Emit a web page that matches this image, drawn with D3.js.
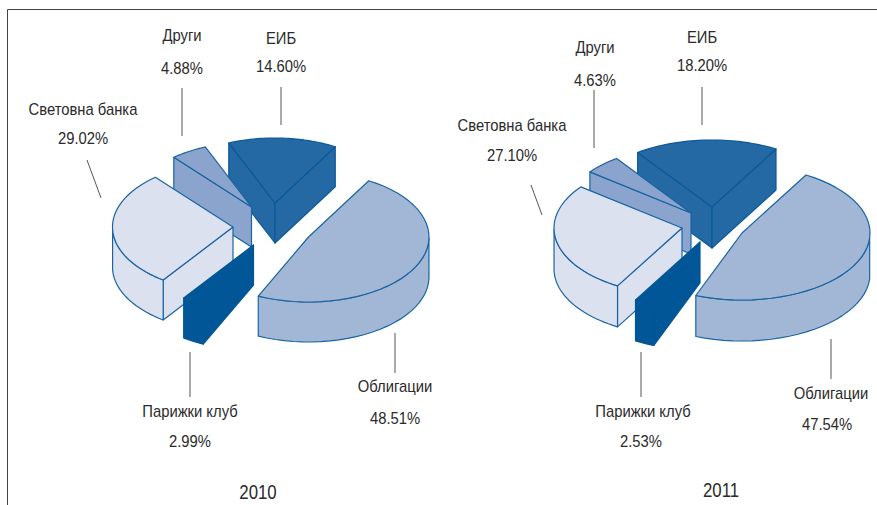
<!DOCTYPE html>
<html>
<head>
<meta charset="utf-8">
<script src="https://cdn.jsdelivr.net/npm/d3@7"></script>
<style>
    html, body { margin: 0; padding: 0; background: #fff; }
    svg { display: block; }
    text { font-family: "Liberation Sans", Arial, sans-serif; fill: #2a2a2a; }
</style>
</head>
<body>
<div id="chart"></div>
<script>
// Values, clockwise from the top right edge of the bonds slice
const categories = ["Облигации", "Парижки клуб", "Световна банка", "Други", "ЕИБ"];
const values2010 = [48.51, 2.99, 29.02, 4.88, 14.60];
const values2011 = [47.54, 2.53, 27.10, 4.63, 18.20];
const years = ["2010", "2011"];

const colors = ["#a2b6d6", "#005696", "#dce1f0", "#8aa4cd", "#2569a4"];
const strokes = ["#1a64a2", "#005696", "#1a64a2", "#1a64a2", "#0a5a9a"];

const width = 877, height = 505;
const series = [values2010, values2011];

// Pie geometry in screen pixels: centre of the bonds slice, radii, and
// how far each slice is pulled away from that centre.
const pies = [
    { cx: 308.5, cy: 237, rx: 120.5, ry: 65, depth: 40,
      explode: [[0, 0], [-55, 8], [-75.5, -10], [-57, -30], [-33.5, -34]] },
    { cx: 742, cy: 233, rx: 128, ry: 67, depth: 41,
      explode: [[0, 0], [-42, 9], [-60, -5], [-51, -20], [-30, -26]] }
];

// Label placement by category: name x, name y, percent x, percent y
const labelPos = [
    [[395, 386, 395, 418], [190, 411, 190, 441], [83, 109, 83, 138], [182, 35, 182, 68], [281, 38, 281, 66]],
    [[831, 393, 827, 424], [643, 411, 641, 441], [512, 125, 512, 155], [595, 47, 595, 80], [702, 37, 702, 65]]
];
const leaders = [
    [[395, 333, 395, 373], [190, 352, 190, 397], [87, 160, 101, 198], [182, 88, 182, 136], [281, 87, 281, 125]],
    [[831, 339, 831, 379], [641, 352, 641, 397], [531, 185, 542, 215], [594, 90, 594, 148], [702, 87, 702, 125]]
];
const yearPos = [[258, 499], [721, 497]];

const svg = d3.select("#chart").append("svg")
    .attr("width", width)
    .attr("height", height);

// Frame: left and top rules only
svg.append("path")
    .attr("d", d3.line()([[7.5, height], [7.5, 9.5], [width, 9.5]]))
    .attr("fill", "none")
    .attr("stroke", "#444")
    .attr("stroke-width", 1);

const pie = d3.pie()
    .value(d => d)
    .sort(null)
    .startAngle(Math.PI / 6)
    .endAngle(Math.PI / 6 + 2 * Math.PI);

const line = d3.line();

function label(x, y, str, size, squeeze) {
    // The original type is a condensed sans, so squeeze it horizontally
    svg.append("text")
        .attr("transform", `translate(${x},${y}) scale(${squeeze},1)`)
        .attr("text-anchor", "middle")
        .attr("font-size", size)
        .text(str);
}

series.forEach((values, c) => {
    const p = pies[c];
    const slices = pie(values);
    const g = svg.append("g");

    // Painter's order: back slices first, bonds last
    [4, 3, 2, 1, 0].forEach(i => {
        const s = slices[i];
        const ox = p.cx + p.explode[i][0];
        const oy = p.cy + p.explode[i][1];
        const pt = a => [ox + p.rx * Math.sin(a), oy - p.ry * Math.cos(a)];
        const down = q => [q[0], q[1] + p.depth];

        const angles = d3.range(0, 41).map(k => s.startAngle + (s.endAngle - s.startAngle) * k / 40);
        const rim = angles.map(pt);
        const apex = [ox, oy];
        const mid = pt((s.startAngle + s.endAngle) / 2);

        const style = sel => sel
            .attr("fill", colors[i])
            .attr("stroke", strokes[i])
            .attr("stroke-width", 1.2)
            .attr("stroke-linejoin", "round");

        // Cut walls, only the ones facing the viewer
        [rim[0], rim[rim.length - 1]].forEach(q => {
            const cross = (q[0] - apex[0]) * (mid[1] - apex[1]) - (q[1] - apex[1]) * (mid[0] - apex[0]);
            const above = q[0] > apex[0] ? cross < 0 : cross > 0;
            if (above) {
                g.append("path")
                    .attr("d", line([apex, q, down(q), down(apex)]) + "Z")
                    .call(style);
            }
        });

        // Outer wall: only the part of the rim on the near side
        const near = angles.filter(a => Math.cos(a) <= 0).map(pt);
        if (near.length > 1) {
            g.append("path")
                .attr("d", line(near.concat(near.map(down).reverse())) + "Z")
                .call(style);
        }

        // Top face
        g.append("path")
            .attr("d", line([apex].concat(rim)) + "Z")
            .call(style);
    });

    // Leader lines and labels
    categories.forEach((name, i) => {
        const l = leaders[c][i];
        svg.append("line")
            .attr("x1", l[0]).attr("y1", l[1])
            .attr("x2", l[2]).attr("y2", l[3])
            .attr("stroke", "#555")
            .attr("stroke-width", 1);
        const pos = labelPos[c][i];
        label(pos[0], pos[1] + 6, name, 17, 0.87);
        label(pos[2], pos[3] + 6, values[i].toFixed(2) + "%", 17, 0.87);
    });

    label(yearPos[c][0], yearPos[c][1], years[c], 21, 0.8);
});
</script>
</body>
</html>
